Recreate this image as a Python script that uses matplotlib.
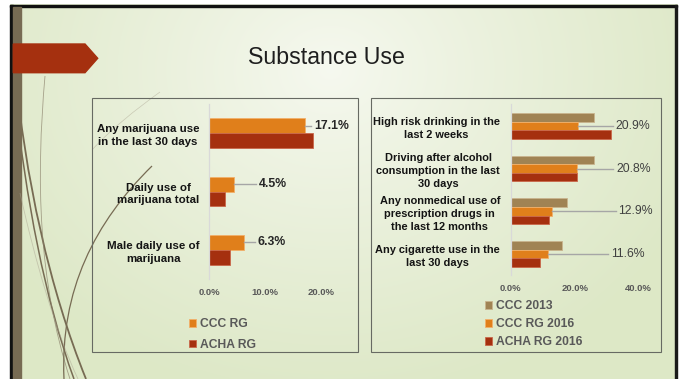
import numpy as np
import matplotlib
matplotlib.use("Agg")
import matplotlib.pyplot as plt
from matplotlib.patches import Rectangle, Polygon, PathPatch
from matplotlib.path import Path
from matplotlib.ticker import FuncFormatter

plt.rcParams['font.family'] = ['Liberation Sans', 'DejaVu Sans']

# ---- data (percent) ----
left_categories = ["Any marijuana use\nin the last 30 days",
                   "Daily use of\nmarijuana total",
                   "Male daily use of\nmarijuana"]
left_ccc_rg = [17.1, 4.5, 6.3]
left_acha_rg = [18.6, 2.8, 3.8]
left_ticks = [0, 10, 20]

right_categories = ["High risk drinking in the\nlast 2 weeks",
                    "Driving after alcohol\nconsumption in the last\n30 days",
                    "Any nonmedical use of\nprescription drugs in\nthe last 12 months",
                    "Any cigarette use in the\nlast 30 days"]
right_ccc_2013 = [26.0, 26.1, 17.6, 15.9]
right_ccc_rg_2016 = [20.9, 20.8, 12.9, 11.6]
right_acha_rg_2016 = [31.3, 20.6, 12.1, 9.1]
right_ticks = [0, 20, 40]

# where the data labels sit (x in %), as placed on the slide
left_label_x = [18.75, 8.93, 8.75]
right_label_x = [32.8, 32.9, 33.6, 31.3]

TAN = '#A08354'
ORANGE = '#E07F1B'
RED = '#A5300F'
W, H = 685, 379


def fx(px):
    return px / W


def fy(py):
    return 1 - py / H


fig = plt.figure(figsize=(6.85, 3.79), dpi=100, facecolor='white')

# ---- slide background ----
bg = fig.add_axes([0, 0, 1, 1], zorder=-10)
bg.set_xlim(0, W)
bg.set_ylim(H, 0)
bg.axis('off')
xx, yy = np.meshgrid(np.linspace(10, 677, 300), np.linspace(4.5, 379, 200))
t = np.clip(np.sqrt(((xx - 330) / 390) ** 2 + ((yy - 70) / 330) ** 2), 0, 1) ** 0.9
c_in = np.array([0.965, 0.975, 0.94])
c_out = np.array([0.868, 0.91, 0.78])
img = c_in[None, None, :] * (1 - t[..., None]) + c_out[None, None, :] * t[..., None]
bg.imshow(img, extent=(10, 677.3, 379, 4.5), aspect='auto', interpolation='bilinear')
bg.add_patch(Rectangle((10, 4.5), 667.3, 2.6, color='#111111'))
bg.add_patch(Rectangle((10, 4.5), 3.3, 375, color='#111111'))
bg.add_patch(Rectangle((675, 4.5), 2.4, 375, color='#1a1a1a'))
bg.add_patch(Rectangle((13.3, 7), 7.4, 372, color='#776B53'))

# decorative curves
curves = [
    ([(14, 60), (25, 180), (50, 290), (86, 379)], 1.3, '#776B53', 1.0),
    ([(14, 90), (26, 200), (45, 300), (74, 379)], 1.1, '#776B53', 1.0),
    ([(45, 76), (36, 180), (38, 280), (70, 379)], 0.6, '#8a806a', 0.7),
    ([(64, 379), (60, 290), (95, 222), (152, 166)], 0.9, '#776B53', 1.0),
    ([(20, 193), (35, 260), (55, 330), (78, 379)], 0.6, '#a9a28f', 0.5),
    ([(92, 150), (110, 130), (135, 110), (160, 92)], 0.5, '#a9a28f', 0.5),
]
for pts, lw, col, a in curves:
    p = Path(pts, [Path.MOVETO, Path.CURVE4, Path.CURVE4, Path.CURVE4])
    bg.add_patch(PathPatch(p, facecolor='none', edgecolor=col, lw=lw, alpha=a))

bg.add_patch(Polygon([(13.3, 44), (85, 44), (97.7, 58.3), (85, 72.7), (13.3, 72.7)],
                     closed=True, color=RED))

# chart frames
bg.add_patch(Rectangle((92.3, 98.3), 265.7, 254, fill=False, edgecolor='#676a63', lw=0.8))
bg.add_patch(Rectangle((371, 98.3), 289.7, 254, fill=False, edgecolor='#676a63', lw=0.8))

fig.text(fx(326), fy(64.3), "Substance Use", ha='center', va='baseline',
         fontsize=16.7, color='#1e1e1e')

pct = FuncFormatter(lambda v, pos: f"{v:.1f}%")


def style_axis(ax, labelsize, pad):
    ax.set_facecolor('none')
    for s in ['top', 'right', 'bottom']:
        ax.spines[s].set_visible(False)
    ax.spines['left'].set_color('#d9d9d9')
    ax.spines['left'].set_linewidth(0.9)
    ax.tick_params(axis='both', length=0)
    ax.tick_params(axis='x', pad=6.5, labelsize=6.8, labelcolor='#595959')
    ax.tick_params(axis='y', pad=pad, labelsize=labelsize, labelcolor='#141414')
    ax.xaxis.set_major_formatter(pct)
    for lab in ax.get_xticklabels():
        lab.set_fontweight('bold')
    for lab in ax.get_yticklabels():
        lab.set_fontweight('bold')
        lab.set_multialignment('center')
        lab.set_linespacing(1.37)


# ---- left chart ----
axL = fig.add_axes([fx(209), fy(279), (321 - 209) / W, (279 - 104) / H])
yl = np.arange(len(left_categories))
hL = 0.257
axL.barh(yl - hL / 2, left_ccc_rg, height=hL, color=ORANGE, edgecolor='#f2b06a', lw=0.6, label='CCC RG')
axL.barh(yl + hL / 2, left_acha_rg, height=hL, color=RED, edgecolor='#c9674a', lw=0.6, label='ACHA RG')
axL.set_xlim(0, 20)
axL.set_ylim(len(left_categories) - 0.5, -0.5)
axL.set_xticks(left_ticks)
axL.set_yticks(yl)
axL.set_yticklabels(left_categories)
style_axis(axL, 8.25, 7)
for i, v in enumerate(left_ccc_rg):
    y = yl[i] - hL / 2
    axL.plot([v, left_label_x[i] - 0.55], [y, y], color='#a6a6a6', lw=1, clip_on=False)
    axL.text(left_label_x[i], y, f"{v:.1f}%", ha='left', va='center',
             fontsize=8.8, fontweight='bold', color='#262626')
axL.legend(loc='upper left', bbox_to_anchor=(fx(189), fy(318)), bbox_transform=fig.transFigure,
           frameon=False, borderpad=0, borderaxespad=0, handlelength=0.6, handleheight=0.6,
           handletextpad=0.35, labelspacing=0.72,
           prop={'size': 8.7, 'weight': 'bold'}, labelcolor='#595959')

# ---- right chart ----
axR = fig.add_axes([fx(510.7), fy(275.3), (638.7 - 510.7) / W, (275.3 - 104.5) / H])
yr = np.arange(len(right_categories))
hR = 0.2
axR.barh(yr - hR, right_ccc_2013, height=hR, color=TAN, edgecolor='#c9b48e', lw=0.6, label='CCC 2013')
axR.barh(yr, right_ccc_rg_2016, height=hR, color=ORANGE, edgecolor='#f2b06a', lw=0.6, label='CCC RG 2016')
axR.barh(yr + hR, right_acha_rg_2016, height=hR, color=RED, edgecolor='#c9674a', lw=0.6, label='ACHA RG 2016')
axR.set_xlim(0, 40)
axR.set_ylim(len(right_categories) - 0.5, -0.5)
axR.set_xticks(right_ticks)
axR.set_yticks(yr)
axR.set_yticklabels(right_categories)
style_axis(axR, 7.9, 7.7)
for i, v in enumerate(right_ccc_rg_2016):
    axR.plot([v, right_label_x[i] - 0.8], [yr[i], yr[i]], color='#a6a6a6', lw=1, clip_on=False)
    axR.text(right_label_x[i], yr[i], f"{v:.1f}%", ha='left', va='center',
             fontsize=8.8, color='#404040')
axR.legend(loc='upper left', bbox_to_anchor=(fx(485), fy(300)), bbox_transform=fig.transFigure,
           frameon=False, borderpad=0, borderaxespad=0, handlelength=0.6, handleheight=0.6,
           handletextpad=0.35, labelspacing=0.5,
           prop={'size': 8.7, 'weight': 'bold'}, labelcolor='#595959')

fig.savefig('out.png', dpi=100)
